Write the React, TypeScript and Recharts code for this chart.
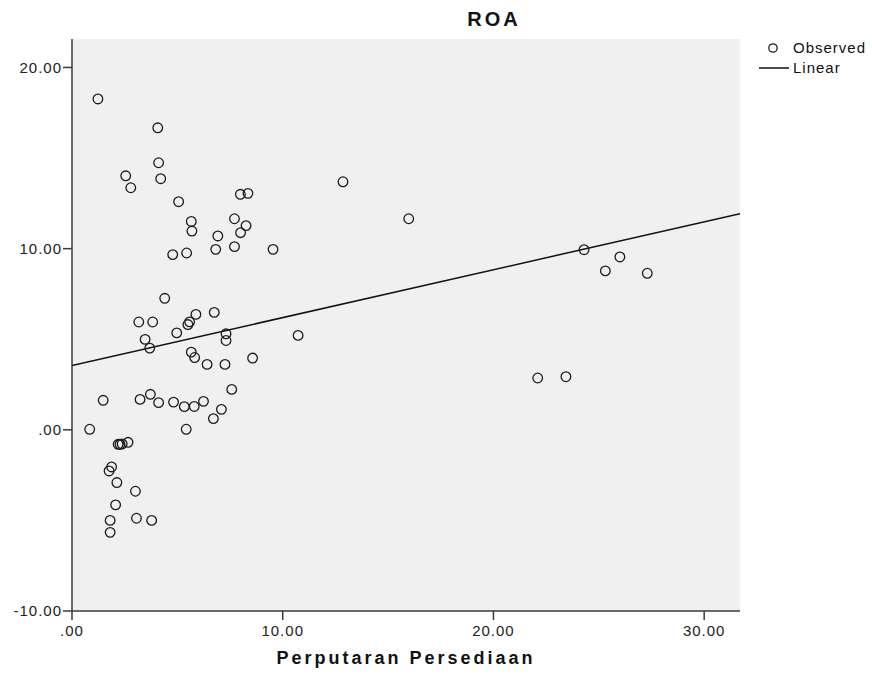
import React from 'react';
import { ComposedChart, Scatter, XAxis, YAxis, CartesianGrid } from 'recharts';

const observedX = [
  1.23, 4.07, 4.11, 2.55, 4.21, 2.79, 5.06, 7.99, 8.35, 5.66, 5.69, 6.92, 7.71, 8.26, 8.0, 6.82, 7.71, 9.54,
  4.78, 5.44, 12.86, 15.98, 10.73, 24.3, 25.31, 26.0, 27.3, 22.1, 23.44, 4.4, 3.17, 3.83, 6.75, 5.88, 5.58, 5.5,
  4.97, 3.47, 3.69, 7.31, 7.31, 5.66, 5.82, 6.41, 7.26, 8.57, 7.58, 1.48, 3.23, 3.72, 4.11, 4.82, 5.33, 5.8,
  6.24, 7.09, 6.71, 5.42, 0.84, 2.19, 2.28, 2.38, 2.66, 1.88, 1.76, 2.13, 3.01, 2.07, 1.81, 3.06, 3.78, 1.81
];
const observedY = [
  18.26, 16.67, 14.74, 14.02, 13.86, 13.36, 12.59, 13.0, 13.05, 11.5, 10.97, 10.7, 11.65, 11.27, 10.88, 9.96,
  10.11, 9.96, 9.67, 9.76, 13.69, 11.65, 5.21, 9.94, 8.77, 9.54, 8.64, 2.86, 2.93, 7.26, 5.95, 5.95, 6.48, 6.37,
  5.96, 5.81, 5.35, 4.99, 4.51, 5.3, 4.93, 4.29, 3.99, 3.61, 3.61, 3.96, 2.23, 1.63, 1.68, 1.96, 1.5, 1.53,
  1.28, 1.29, 1.57, 1.13, 0.62, 0.03, 0.03, -0.8, -0.8, -0.78, -0.69, -2.05, -2.27, -2.91, -3.39, -4.14, -5.0,
  -4.88, -5.0, -5.66
];

// fitted line as drawn, read at both ends of the plot
const linearX = [0, 31.7];
const linearY = [3.55, 11.93];

const xTicks = [0, 10, 20, 30];
const yTicks = [-10, 0, 10, 20];

const observed = observedX.map((x, i) => ({ x, y: observedY[i] }));
const linear = linearX.map((x, i) => ({ x, y: linearY[i] }));

const FONT = '"Liberation Sans", Arial, sans-serif';
const AXIS_COLOR = '#3a3a3a';

const formatTick = (v: number): string => (v === 0 ? '.00' : v.toFixed(2));

const RingShape = (props: any) => {
  const { cx, cy } = props;
  if (cx == null || cy == null) return <g />;
  return <circle cx={cx} cy={cy} r={4.8} fill="none" stroke="#1c1c1c" strokeWidth={1.3} />;
};

const NoShape = () => <g />;

const LegendBox = () => (
  <div
    style={{
      position: 'absolute',
      left: 755,
      top: 38,
      fontFamily: FONT,
      fontSize: 15,
      letterSpacing: 1,
      color: '#111',
      lineHeight: '20px'
    }}
  >
    <div style={{ display: 'flex', alignItems: 'center', height: 20 }}>
      <svg width={38} height={20}>
        <circle cx={18} cy={10} r={4.2} fill="none" stroke="#1c1c1c" strokeWidth={1.3} />
      </svg>
      <span>Observed</span>
    </div>
    <div style={{ display: 'flex', alignItems: 'center', height: 20 }}>
      <svg width={38} height={20}>
        <line x1={4} y1={10} x2={34} y2={10} stroke="#111" strokeWidth={1.5} />
      </svg>
      <span>Linear</span>
    </div>
  </div>
);

const App: React.FC = () => {
  const tickStyle = { fill: '#222', fontSize: 15, fontFamily: FONT, letterSpacing: 1 };

  return (
    <div style={{ position: 'absolute', left: 0, top: 0, width: 872, height: 677, background: '#fff' }}>
      <div
        style={{
          position: 'absolute',
          left: 394,
          width: 200,
          top: 8,
          textAlign: 'center',
          fontFamily: FONT,
          fontWeight: 'bold',
          fontSize: 20,
          letterSpacing: 3,
          color: '#111'
        }}
      >
        ROA
      </div>
      <div
        style={{
          position: 'absolute',
          left: 206,
          width: 400,
          top: 648,
          textAlign: 'center',
          fontFamily: FONT,
          fontWeight: 'bold',
          fontSize: 18,
          letterSpacing: 3,
          color: '#111'
        }}
      >
        Perputaran Persediaan
      </div>
      <LegendBox />
      <ComposedChart width={872} height={677} margin={{ top: 39, right: 132, bottom: 0, left: 0 }}>
        <CartesianGrid horizontal={false} vertical={false} fill="#f0f0f0" fillOpacity={1} />
        <XAxis
          xAxisId="b"
          type="number"
          dataKey="x"
          domain={[0, 31.7]}
          ticks={xTicks}
          allowDataOverflow
          tickFormatter={formatTick}
          height={66}
          tickSize={9}
          tickMargin={5}
          tick={tickStyle}
          axisLine={{ stroke: AXIS_COLOR, strokeWidth: 1.5 }}
          tickLine={{ stroke: AXIS_COLOR, strokeWidth: 1.5 }}
        />
        <XAxis xAxisId="t" orientation="top" type="number" domain={[0, 31.7]} height={0} tick={false} tickLine={false}
          axisLine={{ stroke: AXIS_COLOR, strokeWidth: 1.5 }} />
        <YAxis
          yAxisId="l"
          type="number"
          dataKey="y"
          domain={[-10, 21.57]}
          ticks={yTicks}
          allowDataOverflow
          tickFormatter={formatTick}
          width={72}
          tickSize={9}
          tickMargin={1}
          tick={tickStyle}
          axisLine={{ stroke: AXIS_COLOR, strokeWidth: 1.5 }}
          tickLine={{ stroke: AXIS_COLOR, strokeWidth: 1.5 }}
        />
        <YAxis yAxisId="r" orientation="right" type="number" domain={[-10, 21.57]} width={0} tick={false} tickLine={false}
          axisLine={{ stroke: AXIS_COLOR, strokeWidth: 1.5 }} />
        <Scatter
          name="Linear"
          xAxisId="b"
          yAxisId="l"
          data={linear}
          line={{ stroke: '#111', strokeWidth: 1.5 }}
          shape={<NoShape />}
          isAnimationActive={false}
        />
        <Scatter name="Observed" xAxisId="b" yAxisId="l" data={observed} shape={<RingShape />} isAnimationActive={false} />
      </ComposedChart>
    </div>
  );
};

export default App;
